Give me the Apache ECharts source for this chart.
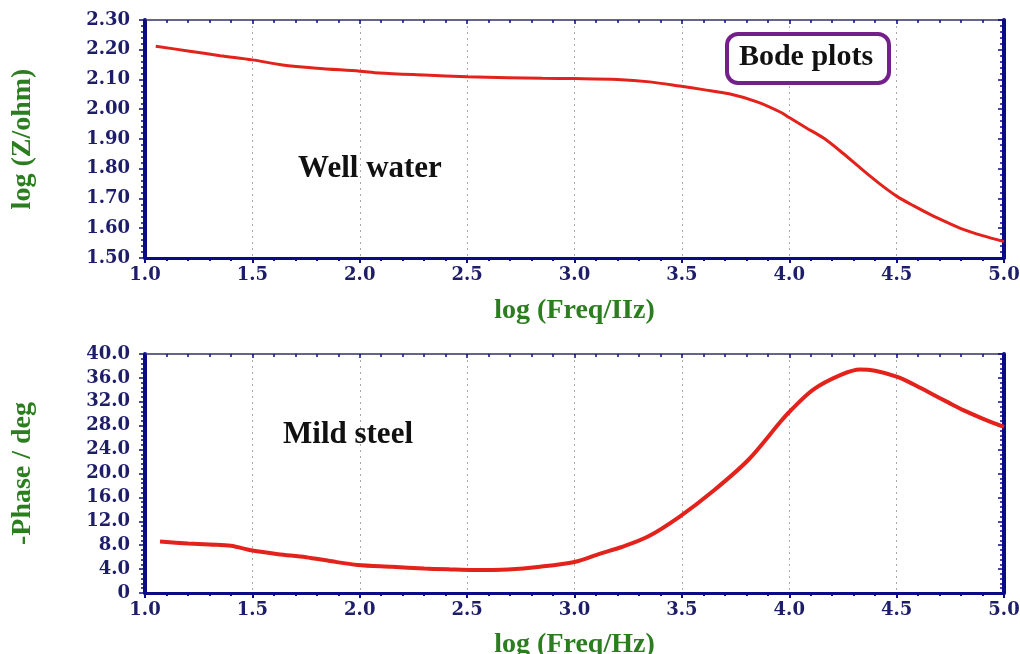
<!DOCTYPE html>
<html>
<head>
<meta charset="utf-8">
<script src="https://cdn.jsdelivr.net/npm/echarts@6/dist/echarts.min.js"></script>
<style>
html,body{margin:0;padding:0;background:#fff;}
#chart{width:1020px;height:654px;}
</style>
</head>
<body>
<div id="chart"></div>
<script>
// ---- data ----
const freqTop = [1.05,1.2,1.35,1.5,1.64,1.8,2.0,2.09,2.3,2.5,2.69,2.85,3.0,3.2,3.35,3.49,3.6,3.72,3.85,3.96,4.0,4.08,4.16,4.25,4.34,4.42,4.5,4.58,4.66,4.74,4.81,4.9,5.0];
const logZ = [2.212,2.196,2.18,2.166,2.149,2.138,2.128,2.122,2.115,2.109,2.106,2.104,2.103,2.100,2.092,2.078,2.066,2.052,2.025,1.99,1.972,1.937,1.903,1.852,1.797,1.75,1.708,1.675,1.645,1.618,1.596,1.575,1.555];
const freqBot = [1.07,1.2,1.3,1.4,1.5,1.62,1.75,1.87,1.99,2.15,2.3,2.42,2.53,2.69,2.84,3.0,3.12,3.22,3.34,3.49,3.65,3.81,3.96,4.0,4.11,4.24,4.33,4.4,4.5,4.58,4.66,4.74,4.81,4.9,5.0];
const phase = [8.6,8.3,8.1,7.9,7.1,6.5,6.0,5.3,4.7,4.4,4.1,3.95,3.85,3.95,4.4,5.2,6.6,7.7,9.4,12.8,17.2,22.3,28.7,30.3,34.0,36.5,37.4,37.2,36.2,34.9,33.4,31.9,30.6,29.2,27.8];
const xTitleTop = 'log (Freq/IIz)';
const xTitleBot = 'log (Freq/Hz)';
const yTitleTop = 'log (Z/ohm)';
const yTitleBot = '-Phase / deg';
const labelTop = 'Well water';
const labelBot = 'Mild steel';
const boxLabel = 'Bode plots';

const pairs = (xs, ys) => xs.map((x, i) => [x, ys[i]]);

const NAVY = '#0b0b86';
const LABEL = '#1d1d6a';
const GREEN = '#2b7d1f';
const RED = '#e3221c';
const tickFont = {fontFamily: 'DejaVu Serif', fontWeight: 'bold', fontSize: 18, color: LABEL};
const nameFont = {fontFamily: 'Liberation Serif', fontWeight: 'bold', fontSize: 28, color: GREEN};

function bottomX(gi, name, gap) {
  return {
    type: 'value', gridIndex: gi, min: 1, max: 5, interval: 0.5, position: 'bottom',
    name: name, nameLocation: 'middle', nameGap: gap, nameTextStyle: nameFont,
    axisLine: {show: true, onZero: false, lineStyle: {color: NAVY, width: 3}},
    axisTick: {show: true, inside: false, length: 5, lineStyle: {color: NAVY, width: 2}},
    minorTick: {show: true, splitNumber: 5, length: 3, lineStyle: {color: NAVY, width: 2}},
    axisLabel: Object.assign({margin: 8, formatter: v => v.toFixed(1)}, tickFont),
    splitLine: {show: true, lineStyle: {color: '#a8a8a8', type: [2, 4], width: 1}}
  };
}
function topX(gi) {
  return {
    type: 'value', gridIndex: gi, min: 1, max: 5, interval: 0.5, position: 'top',
    axisLine: {show: true, onZero: false, lineStyle: {color: '#333366', width: 1.5}},
    axisTick: {show: true, inside: true, length: 4, lineStyle: {color: NAVY, width: 1.5}},
    minorTick: {show: true, splitNumber: 5, length: 3, lineStyle: {color: NAVY, width: 1.5}},
    axisLabel: {show: false}, splitLine: {show: false}
  };
}
function leftY(gi, min, max, interval, name, fmt) {
  return {
    type: 'value', gridIndex: gi, min: min, max: max, interval: interval, position: 'left',
    name: name, nameLocation: 'middle', nameGap: 108, nameRotate: 90, nameTextStyle: nameFont,
    axisLine: {show: true, onZero: false, lineStyle: {color: NAVY, width: 4}},
    axisTick: {show: true, inside: false, length: 6, lineStyle: {color: NAVY, width: 1.5}},
    minorTick: {show: true, splitNumber: 5, length: 4, lineStyle: {color: NAVY, width: 1.5}},
    axisLabel: Object.assign({margin: 15, formatter: fmt}, tickFont),
    splitLine: {show: false}
  };
}
function rightY(gi, min, max, interval) {
  return {
    type: 'value', gridIndex: gi, min: min, max: max, interval: interval, position: 'right',
    axisLine: {show: true, onZero: false, lineStyle: {color: NAVY, width: 4}},
    axisTick: {show: true, inside: true, length: 6, lineStyle: {color: NAVY, width: 1.5}},
    minorTick: {show: true, splitNumber: 5, length: 4, lineStyle: {color: NAVY, width: 1.5}},
    axisLabel: {show: false}, splitLine: {show: false}
  };
}

const chart = echarts.init(document.getElementById('chart'), null, {renderer: 'canvas'});
chart.setOption({
  backgroundColor: '#ffffff',
  animation: false,
  grid: [
    {left: 145, right: 16, top: 20, height: 238, containLabel: false, outerBoundsMode: 'none'},
    {left: 145, right: 16, top: 354, height: 239, containLabel: false, outerBoundsMode: 'none'}
  ],
  xAxis: [bottomX(0, xTitleTop, 39), topX(0), bottomX(1, xTitleBot, 38), topX(1)],
  yAxis: [
    leftY(0, 1.5, 2.3, 0.1, yTitleTop, v => v.toFixed(2)),
    rightY(0, 1.5, 2.3, 0.1),
    leftY(1, 0, 40, 4, yTitleBot, v => v === 0 ? '0' : v.toFixed(1)),
    rightY(1, 0, 40, 4)
  ],
  series: [
    {type: 'line', xAxisIndex: 0, yAxisIndex: 0, data: pairs(freqTop, logZ), smooth: 0.3,
     showSymbol: false, lineStyle: {color: RED, width: 3}, z: 5},
    {type: 'line', xAxisIndex: 2, yAxisIndex: 2, data: pairs(freqBot, phase), smooth: 0.3,
     showSymbol: false, lineStyle: {color: RED, width: 4}, z: 5}
  ],
  graphic: [
    {type: 'rect', left: 725, top: 32, shape: {width: 162, height: 49, r: 11},
     style: {fill: '#fff', stroke: '#74208a', lineWidth: 4}, z: 10},
    {type: 'text', x: 806, y: 57, style: {text: boxLabel, align: 'center', verticalAlign: 'middle',
     font: 'bold 30px "Liberation Serif"', fill: '#111'}, z: 11},
    {type: 'text', x: 370, y: 169, style: {text: labelTop, align: 'center', verticalAlign: 'middle',
     font: 'bold 31px "Liberation Serif"', fill: '#111'}, z: 11},
    {type: 'text', x: 348, y: 435, style: {text: labelBot, align: 'center', verticalAlign: 'middle',
     font: 'bold 31px "Liberation Serif"', fill: '#111'}, z: 11}
  ]
});
</script>
</body>
</html>
